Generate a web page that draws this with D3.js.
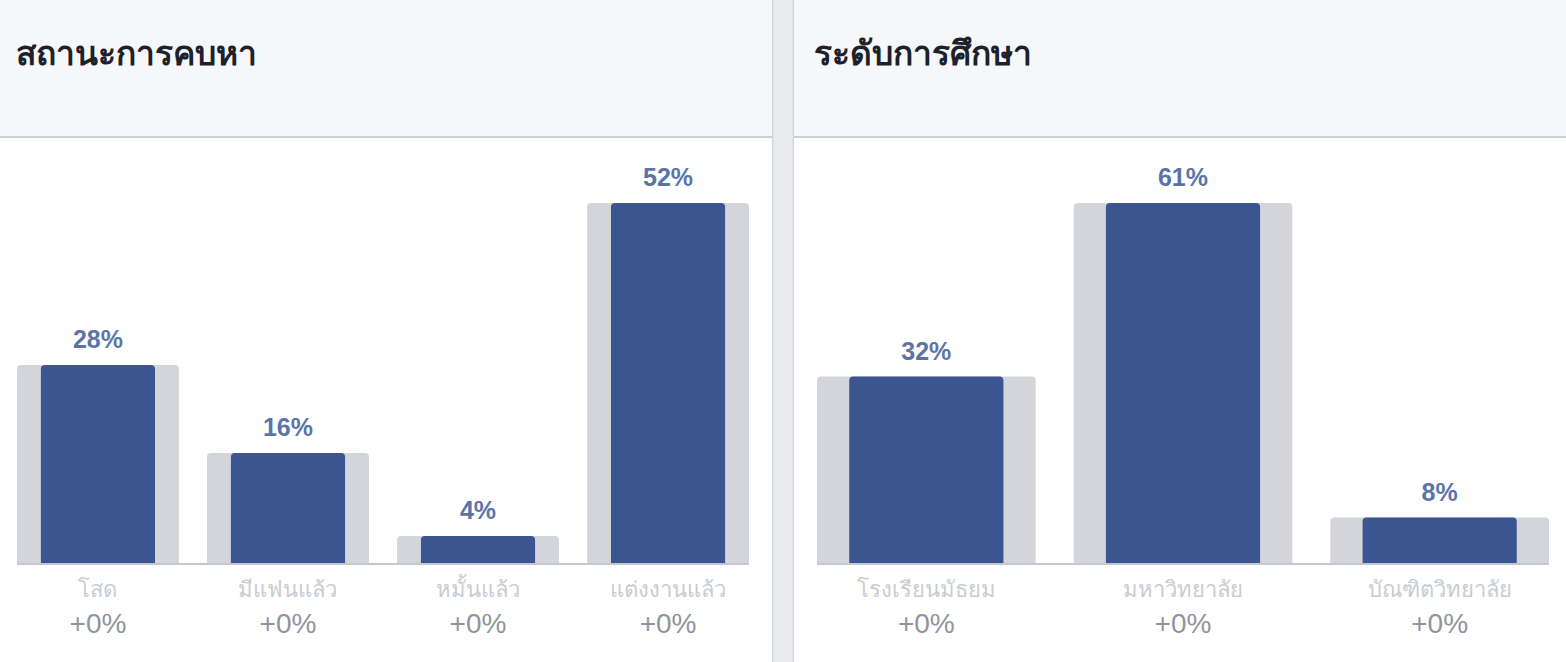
<!DOCTYPE html>
<html>
<head>
<meta charset="utf-8">
<script src="https://cdn.jsdelivr.net/npm/d3@7"></script>
<style>
  html, body { margin: 0; padding: 0; background: #fff; }
  svg { display: block; }
  text { font-family: "Liberation Sans", Arial, Helvetica, sans-serif; }
</style>
</head>
<body>
<svg id="chart" width="1566" height="662"></svg>
<script>
// ---- data ----
const relTitle = "สถานะการคบหา";
const relCategories = ["โสด", "มีแฟนแล้ว", "หมั้นแล้ว", "แต่งงานแล้ว"];
const relValues = [28.6, 15.9, 3.9, 52];
const relLabels = ["28%", "16%", "4%", "52%"];
const relChanges = ["+0%", "+0%", "+0%", "+0%"];

const eduTitle = "ระดับการศึกษา";
const eduCategories = ["โรงเรียนมัธยม", "มหาวิทยาลัย", "บัณฑิตวิทยาลัย"];
const eduValues = [31.6, 61, 7.7];
const eduLabels = ["32%", "61%", "8%"];
const eduChanges = ["+0%", "+0%", "+0%"];

// ---- layout ----
const W = 1566, H = 662;
const svg = d3.select("#chart");
const headerH = 137;
const baseY = 563;
const topY = 203;
const dividerX0 = 772, dividerX1 = 794;

// background
svg.append("rect").attr("x", 0).attr("y", 0).attr("width", W).attr("height", H).attr("fill", "#ffffff");
svg.append("rect").attr("x", 0).attr("y", 0).attr("width", W).attr("height", headerH).attr("fill", "#f6f7f9");
svg.append("rect").attr("x", 0).attr("y", headerH - 1).attr("width", W).attr("height", 2).attr("fill", "#ccd0d5");

// divider
svg.append("rect").attr("x", dividerX0).attr("y", 0).attr("width", dividerX1 - dividerX0).attr("height", H).attr("fill", "#e9ebee");
svg.append("rect").attr("x", dividerX0).attr("y", 0).attr("width", 1.5).attr("height", H).attr("fill", "#d3d6db");
svg.append("rect").attr("x", dividerX1 - 1.5).attr("y", 0).attr("width", 1.5).attr("height", H).attr("fill", "#d3d6db");

function topRounded(x, y, w, h, r) {
  r = Math.min(r, h, w / 2);
  return `M${x},${y + h}V${y + r}Q${x},${y} ${x + r},${y}H${x + w - r}Q${x + w},${y} ${x + w},${y + r}V${y + h}Z`;
}

function panel(opts) {
  const g = svg.append("g");
  g.append("text")
    .attr("x", opts.titleX).attr("y", 65)
    .attr("font-size", 33.5).attr("font-weight", "bold")
    .attr("fill", "#1d2129")
    .text(opts.title);

  const x = d3.scaleBand()
    .domain(opts.categories)
    .range([opts.x0, opts.x1])
    .paddingInner(0.148)
    .paddingOuter(0);
  const y = d3.scaleLinear()
    .domain([0, d3.max(opts.values)])
    .range([baseY, topY]);

  const data = opts.categories.map((c, i) => ({
    c, v: opts.values[i], label: opts.labels[i], change: opts.changes[i]
  }));

  const bw = x.bandwidth();
  const innerW = bw * 0.705;

  // grey background bars
  g.selectAll(".bg").data(data).enter().append("path")
    .attr("fill", "#d4d5da")
    .attr("d", d => topRounded(x(d.c), y(d.v), bw, baseY - y(d.v), 4));
  // blue bars
  g.selectAll(".fg").data(data).enter().append("path")
    .attr("fill", "#3b5591")
    .attr("d", d => topRounded(x(d.c) + (bw - innerW) / 2, y(d.v), innerW, baseY - y(d.v), 4));

  // baseline
  g.append("rect")
    .attr("x", opts.x0).attr("y", baseY).attr("width", opts.x1 - opts.x0).attr("height", 2)
    .attr("fill", "#c4c7cd");

  // value labels
  g.selectAll(".val").data(data).enter().append("text")
    .attr("x", d => x(d.c) + bw / 2)
    .attr("y", d => y(d.v) - 17)
    .attr("text-anchor", "middle")
    .attr("font-size", 25).attr("font-weight", "bold")
    .attr("fill", "#5b74a8")
    .text(d => d.label);

  // category labels
  g.selectAll(".cat").data(data).enter().append("text")
    .attr("x", d => x(d.c) + bw / 2)
    .attr("y", 597)
    .attr("text-anchor", "middle")
    .attr("font-size", 22)
    .attr("fill", "#c9ccd1")
    .text(d => d.c);

  // change labels
  g.selectAll(".chg").data(data).enter().append("text")
    .attr("x", d => x(d.c) + bw / 2)
    .attr("y", 633)
    .attr("text-anchor", "middle")
    .attr("font-size", 28)
    .attr("fill", "#90949c")
    .text(d => d.change);
}

panel({ title: relTitle, titleX: 16, categories: relCategories, values: relValues,
        labels: relLabels, changes: relChanges, x0: 17, x1: 749 });
panel({ title: eduTitle, titleX: 814, categories: eduCategories, values: eduValues,
        labels: eduLabels, changes: eduChanges, x0: 817, x1: 1549 });
</script>
</body>
</html>
